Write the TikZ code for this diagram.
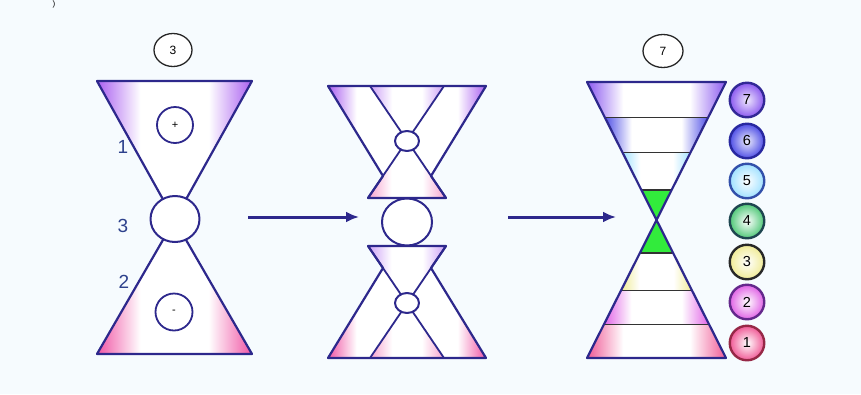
\documentclass[tikz,border=0pt]{standalone}
\usepackage{fontspec}
\setmainfont{Liberation Sans}
\usetikzlibrary{shapes.geometric,arrows.meta}
\definecolor{bg}{RGB}{246,251,254}
\definecolor{navy}{RGB}{45,40,140}
\definecolor{lblue}{RGB}{45,65,140}
\definecolor{vio}{RGB}{170,95,240}
\definecolor{pk}{RGB}{240,85,165}
\colorlet{lvio}{vio!60!white}
\colorlet{lpk}{pk!55!white}
\definecolor{bsev}{RGB}{140,90,240}
\definecolor{bsix}{RGB}{80,80,230}
\definecolor{bfive}{RGB}{160,225,255}
\definecolor{bthree}{RGB}{240,235,150}
\definecolor{btwo}{RGB}{225,100,230}
\definecolor{bone}{RGB}{240,90,150}
\definecolor{gr}{RGB}{50,235,60}
\newcommand\mkshade[4]{\pgfdeclarehorizontalshading{#1}{100bp}{color(0bp)=(#2); color(25bp)=(#2); color(#3bp)=(white); color(#4bp)=(white); color(75bp)=(#2); color(100bp)=(#2)}}
\mkshade{vedge}{vio}{39}{61}
\mkshade{pedge}{pk}{39}{61}
\mkshade{lvedge}{lvio}{40}{60}
\mkshade{lpedge}{lpk}{40}{60}
\mkshade{sevedge}{bsev}{38}{62}
\mkshade{sixedge}{bsix}{38}{62}
\mkshade{fiveedge}{bfive}{38}{62}
\mkshade{threeedge}{bthree}{38}{62}
\mkshade{twoedge}{btwo}{38}{62}
\mkshade{oneedge}{bone}{38}{62}
\pgfdeclarehorizontalshading{vleft}{100bp}{color(0bp)=(vio); color(25bp)=(vio); color(43bp)=(white); color(100bp)=(white)}
\pgfdeclarehorizontalshading{vright}{100bp}{color(0bp)=(white); color(57bp)=(white); color(75bp)=(vio); color(100bp)=(vio)}
\pgfdeclarehorizontalshading{pleft}{100bp}{color(0bp)=(pk); color(25bp)=(pk); color(43bp)=(white); color(100bp)=(white)}
\pgfdeclarehorizontalshading{pright}{100bp}{color(0bp)=(white); color(57bp)=(white); color(75bp)=(pk); color(100bp)=(pk)}
\begin{document}
\begin{tikzpicture}[x=1pt,y=-1pt, line join=round,
  outl/.style={draw=navy, line width=2.2pt},
  inl/.style={draw=navy, line width=1.8pt},
  ring/.style={shape=ellipse, draw=black!85, line width=1.3pt, fill=white, inner sep=0pt, font=\fontsize{12}{12}\selectfont},
  bigring/.style={shape=ellipse, draw=navy, line width=2pt, fill=white, inner sep=0pt},
  lab/.style={text=lblue, font=\fontsize{19}{19}\selectfont},
  arr/.style={draw=navy, line width=3pt, -{Latex[length=13pt,width=11pt]}},
  bandline/.style={draw=black!80, line width=1pt},
  num/.style={circle, minimum size=34.5pt, inner sep=0pt, line width=2.4pt, font=\fontsize{14.5}{14.5}\selectfont}
]
\useasboundingbox (0,0) rectangle (861,394);
\fill[bg] (0,0) rectangle (861,394);
\node[anchor=north, inner sep=0pt, font=\fontsize{8}{8}\selectfont] (paren) at (54,0.5) {)};

% ---------- left figure ----------
\shade[shading=vedge] (97,81) -- (252,81) -- (174.5,220) -- cycle;
\shade[shading=pedge] (97,354) -- (252,354) -- (174.5,220) -- cycle;
\draw[outl] (97,81) -- (252,81) -- (174.5,220) -- cycle;
\draw[outl] (97,354) -- (252,354) -- (174.5,220) -- cycle;
\node[bigring, minimum width=49pt, minimum height=46pt] (lc) at (175,219) {};
\node[ring, minimum width=38pt, minimum height=33pt] (ltop) at (173,50) {3};
\node[ring, draw=navy, line width=1.8pt, circle, minimum size=36pt, font=\fontsize{11}{11}\selectfont] (plus) at (175,125) {+};
\node[ring, draw=navy, line width=1.8pt, circle, minimum size=37pt, font=\fontsize{11}{11}\selectfont] (minus) at (174,312) {-};
\node[lab] (l1) at (123,147) {1};
\node[lab] (l3) at (123,226) {3};
\node[lab] (l2) at (124,282) {2};

% ---------- arrows ----------
\coordinate (a1s) at (248,217);
\coordinate (a1e) at (359,217);
\coordinate (a2s) at (508,217);
\coordinate (a2e) at (616,217);
\draw[arr] (a1s) -- (a1e);
\draw[arr] (a2s) -- (a2e);

% ---------- middle figure ----------
% upper part
\shade[shading=vleft] (328,86) -- (370,86) -- (407,140.5) -- (383,176) -- cycle;
\shade[shading=vright] (444,86) -- (486,86) -- (431,176) -- (407,140.5) -- cycle;
\shade[shading=lvedge] (370,86) -- (444,86) -- (407,140.5) -- cycle;
\shade[shading=lpedge] (407,140.5) -- (446,198) -- (368,198) -- cycle;
\draw[outl] (328,86) -- (486,86) -- (431,176) -- (446,198) -- (368,198) -- (383,176) -- cycle;
\draw[inl] (370,86) -- (446,198);
\draw[inl] (444,86) -- (368,198);
\node[bigring, minimum width=24pt, minimum height=20pt] (mt) at (407,141) {};
% lower part
\shade[shading=pleft] (328,358) -- (370,358) -- (407,303.5) -- (383,268) -- cycle;
\shade[shading=pright] (444,358) -- (486,358) -- (431,268) -- (407,303.5) -- cycle;
\shade[shading=lpedge] (370,358) -- (444,358) -- (407,303.5) -- cycle;
\shade[shading=lvedge] (407,303.5) -- (446,246) -- (368,246) -- cycle;
\draw[outl] (328,358) -- (486,358) -- (431,268) -- (446,246) -- (368,246) -- (383,268) -- cycle;
\draw[inl] (370,358) -- (446,246);
\draw[inl] (444,358) -- (368,246);
\node[bigring, minimum width=24pt, minimum height=20pt] (mb) at (407,303) {};
\node[bigring, minimum width=50pt, minimum height=47pt] (mc) at (407,222) {};

% ---------- right figure ----------
\shade[shading=sevedge] (587,82) -- (726,82) -- (708.4,117) -- (604.6,117) -- cycle;
\shade[shading=sixedge] (604.6,117) -- (708.4,117) -- (690.7,152) -- (622.3,152) -- cycle;
\shade[shading=fiveedge] (622.3,152) -- (690.7,152) -- (671.6,190) -- (641.4,190) -- cycle;
\fill[gr] (641.4,190) -- (671.6,190) -- (656.5,220) -- cycle;
\fill[gr] (639.9,253) -- (673.1,253) -- (656.5,220) -- cycle;
\shade[shading=threeedge] (639.9,253) -- (673.1,253) -- (691.8,290) -- (621.2,290) -- cycle;
\shade[shading=twoedge] (621.2,290) -- (691.8,290) -- (708.9,324) -- (604.1,324) -- cycle;
\shade[shading=oneedge] (604.1,324) -- (708.9,324) -- (726,358) -- (587,358) -- cycle;
\draw[bandline] (604.6,117) -- (708.4,117);
\draw[bandline] (622.3,152) -- (690.7,152);
\draw[bandline, line width=1.4pt] (641.4,190) -- (671.6,190);
\draw[bandline, line width=1.4pt] (639.9,253) -- (673.1,253);
\draw[bandline] (621.2,290) -- (691.8,290);
\draw[bandline] (604.1,324) -- (708.9,324);
\draw[outl] (587,82) -- (726,82) -- (656.5,220) -- cycle;
\draw[outl] (587,358) -- (726,358) -- (656.5,220) -- cycle;
\node[ring, minimum width=40pt, minimum height=33pt] (rtop) at (663,51) {7};

\node[num, draw={rgb,255:red,50;green,40;blue,150}, inner color=bsev!15!white, outer color=bsev] (n7) at (747,100) {7};
\node[num, draw={rgb,255:red,40;green,40;blue,160}, inner color=bsix!12!white, outer color=bsix] (n6) at (747,141) {6};
\node[num, draw={rgb,255:red,50;green,80;blue,170}, inner color=white, outer color=bfive] (n5) at (747,181) {5};
\node[num, draw={rgb,255:red,30;green,70;blue,80}, inner color=white, outer color={rgb,255:red,80;green,200;blue,120}] (n4) at (747,221) {4};
\node[num, draw={rgb,255:red,40;green,40;blue,40}, inner color=white, outer color=bthree] (n3) at (747,262) {3};
\node[num, draw={rgb,255:red,100;green,40;blue,140}, inner color=white, outer color=btwo] (n2) at (747,302) {2};
\node[num, draw={rgb,255:red,150;green,40;blue,70}, inner color=white, outer color=bone] (n1) at (747,343) {1};
\end{tikzpicture}
\end{document}
